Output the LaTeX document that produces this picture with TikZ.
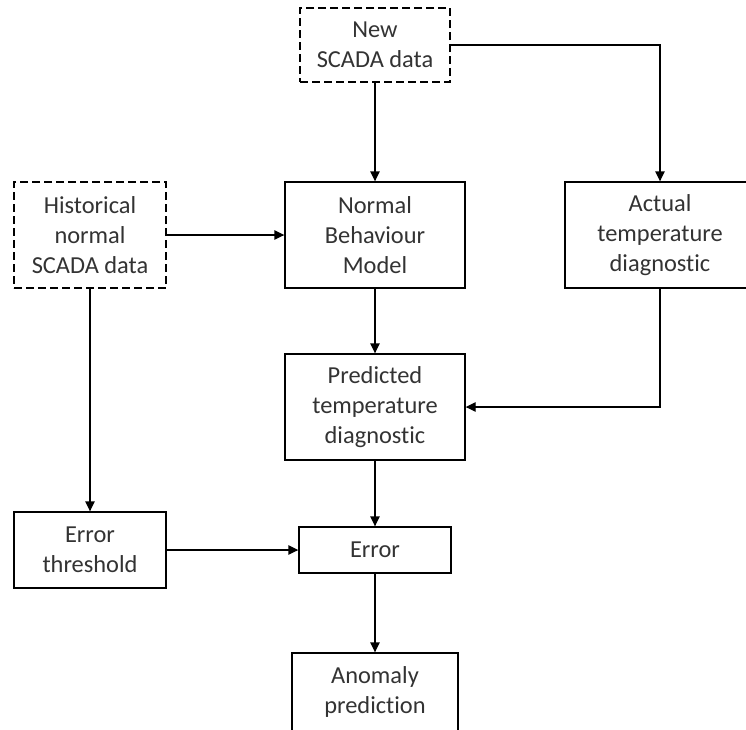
\documentclass[tikz,border=0pt]{standalone}
\usepackage{fontspec}
\setmainfont{Carlito}[RawFeature={-liga}]
\usetikzlibrary{arrows.meta}
\definecolor{txt}{HTML}{333333}
\tikzset{
  box/.style={draw=black, line width=1pt, rectangle, align=center,
    text=txt, inner sep=0pt,
    font=\fontsize{18.3}{22.5}\selectfont},
  srcbox/.style={box, dash pattern=on 6pt off 3pt},
  arr/.style={draw=black, line width=1pt,
    -{Triangle[length=7.5pt,width=7pt]}},
}
\begin{document}
\begin{tikzpicture}[x=0.75pt, y=-0.75pt]
  \useasboundingbox (0,0) rectangle (746,729);
  \clip (0,0) rectangle (746,729);
  \fill[white] (0,0) rectangle (746,729);

  % input data sources
  \node[srcbox, minimum width=150*0.75pt, minimum height=74*0.75pt]
    (newd) at (375,45) {New\\SCADA data};
  \node[srcbox, minimum width=152*0.75pt, minimum height=106*0.75pt]
    (hist) at (90,235) {Historical\\normal\\SCADA data};

  % processing steps
  \node[box, minimum width=180*0.75pt, minimum height=106*0.75pt]
    (nbm) at (375,235) {Normal\\Behaviour\\Model};
  \node[box, minimum width=190*0.75pt, minimum height=106*0.75pt]
    (act) at (660,235) {Actual\\temperature\\diagnostic};
  \node[box, minimum width=180*0.75pt, minimum height=106*0.75pt]
    (pred) at (375,407) {Predicted\\temperature\\diagnostic};
  \node[box, minimum width=152*0.75pt, minimum height=76*0.75pt]
    (thr) at (90,550) {Error\\threshold};
  \node[box, minimum width=152*0.75pt, minimum height=46*0.75pt]
    (err) at (375,550) {Error};
  \node[box, minimum width=166*0.75pt, minimum height=78*0.75pt]
    (anom) at (375,692) {Anomaly\\prediction};

  % connectors
  \draw[arr] (newd.south) -- (nbm.north);
  \draw[arr] (newd.east) -| (act.north);
  \draw[arr] (hist.east) -- (nbm.west);
  \draw[arr] (hist.south) -- (thr.north);
  \draw[arr] (nbm.south) -- (pred.north);
  \draw[arr] (act.south) |- (pred.east);
  \draw[arr] (pred.south) -- (err.north);
  \draw[arr] (thr.east) -- (err.west);
  \draw[arr] (err.south) -- (anom.north);
\end{tikzpicture}
\end{document}
